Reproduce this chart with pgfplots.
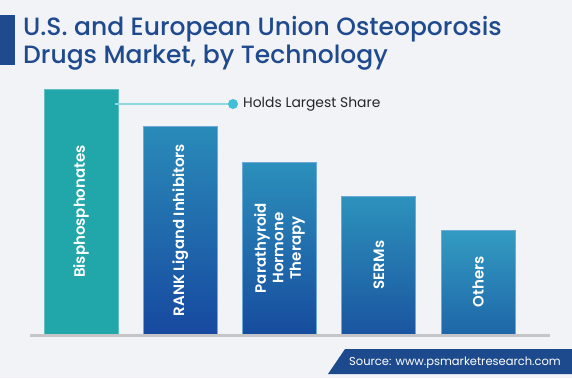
\documentclass[border=0pt]{standalone}
\usepackage{pgfplots}
\pgfplotsset{compat=1.18}
\usepackage{fontspec}
\setmainfont{Poppins}
\newfontfamily\titlefont{Poppins Medium}
\newfontfamily\barfont{Poppins SemiBold}
\definecolor{bgc}{HTML}{F2F3F7}
\definecolor{titleblue}{HTML}{1F4A8E}
\definecolor{tealbar}{HTML}{21A6A9}
\definecolor{tealedge}{HTML}{5FC0C2}
\definecolor{btopA}{HTML}{2A8BB9}
\definecolor{bbotA}{HTML}{1749A0}
\definecolor{btopB}{HTML}{2C90BC}
\definecolor{bbotB}{HTML}{174C9E}
\definecolor{btopC}{HTML}{2D92BC}
\definecolor{bbotC}{HTML}{1A55A0}
\definecolor{btopD}{HTML}{339CC2}
\definecolor{bbotD}{HTML}{1E66A8}
\definecolor{bedge}{HTML}{6FA8D6}
\definecolor{annline}{HTML}{8ED8E2}
\definecolor{anndot}{HTML}{40BFD6}
\definecolor{axisgray}{HTML}{C5C5C8}
\definecolor{srcblue}{HTML}{1D4A8C}
\begin{document}
\begin{tikzpicture}
% background
\fill[bgc] (0pt,0pt) rectangle (572pt,-378pt);
% title
\fill[titleblue] (0pt,-15pt) rectangle (15pt,-65pt);
\node[anchor=base west, inner sep=0pt, text=titleblue, font=\titlefont\fontsize{25}{28}\selectfont] at (23pt,-35pt) {U.S. and European Union Osteoporosis};
\node[anchor=base west, inner sep=0pt, text=titleblue, font=\titlefont\fontsize{25}{28}\selectfont] at (23pt,-63pt) {Drugs Market, by Technology};
\begin{axis}[
  at={(30pt,-334pt)}, anchor=south west,
  scale only axis, width=520pt, height=254pt,
  xmin=-0.514, xmax=4.725, ymin=0, ymax=254,
  axis lines=none, xtick=\empty, ytick=\empty,
  ybar, bar width=74pt, bar shift=0pt,
  clip=false,
]
\addplot[fill=tealbar, draw=tealedge, line width=0.6pt] coordinates {(0,245)};
\addplot[draw=bedge, line width=0.6pt, top color=btopA, bottom color=bbotA] coordinates {(1,208)};
\addplot[draw=bedge, line width=0.6pt, top color=btopB, bottom color=bbotB] coordinates {(2,172)};
\addplot[draw=bedge, line width=0.6pt, top color=btopC, bottom color=bbotC] coordinates {(3,138)};
\addplot[draw=bedge, line width=0.6pt, top color=btopD, bottom color=bbotD] coordinates {(4,104)};
\draw[axisgray, line width=3pt] (axis cs:-0.514,-1.5) -- (axis cs:4.725,-1.5);
\begin{scope}[every node/.style={rotate=90, text=white, font=\barfont\fontsize{15}{17.5}\selectfont, align=center, inner sep=0pt}]
\node at (axis cs:0,122.5) {Bisphosphonates};
\node at (axis cs:1,104) {RANK Ligand Inhibitors};
\node at (axis cs:2,86) {Parathyroid\\Hormone\\Therapy};
\node at (axis cs:3,69) {SERMs};
\node at (axis cs:4,52) {Others};
\end{scope}
\end{axis}
% annotation
\draw[annline, line width=1.5pt] (115pt,-104pt) -- (233pt,-104pt);
\fill[anndot] (233pt,-104pt) circle (5pt);
\node[anchor=west, inner sep=0pt, text=black!85, font=\fontsize{13.9}{16}\selectfont] at (243pt,-104pt) {Holds Largest Share};
% source
\fill[srcblue] (345pt,-349pt) -- (572pt,-349pt) -- (572pt,-374pt) -- (328pt,-374pt) -- cycle;
\node[anchor=base east, inner sep=0pt, text=white, font=\fontsize{11.5}{13}\selectfont] at (561pt,-365pt) {Source: www.psmarketresearch.com};
\end{tikzpicture}
\end{document}
